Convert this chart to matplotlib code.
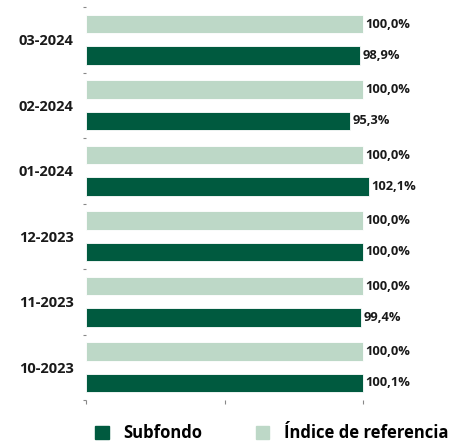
import matplotlib
matplotlib.use("Agg")
import matplotlib.pyplot as plt
from matplotlib.patches import Patch
import numpy as np

categories = ["10-2023", "11-2023", "12-2023", "01-2024", "02-2024", "03-2024"]
subfondo = [100.1, 99.4, 100.0, 102.1, 95.3, 98.9]
indice = [100.0, 100.0, 100.0, 100.0, 100.0, 100.0]
series_names = ["Subfondo", "Índice de referencia"]

dark = "#005A3F"
light = "#BDD8C7"

plt.rcParams['font.family'] = ['Open Sans', 'DejaVu Sans']

fig = plt.figure(figsize=(4.65, 4.45), dpi=100)
ax = fig.add_axes([86/465, 1-400/445, 374/465, 393/445])

y = np.arange(len(categories))
h = 0.28
off = 0.24
ax.barh(y - off, subfondo, height=h, color=dark, edgecolor="white", linewidth=0.6)
ax.barh(y + off, indice, height=h, color=light, edgecolor="white", linewidth=0.6)

for yi, v in zip(y, subfondo):
    ax.text(v + 0.8, yi - off, f"{v:.1f}%".replace(".", ","), va="center", ha="left",
            fontsize=9.3, fontweight="bold", color="#1a1a1a")
for yi, v in zip(y, indice):
    ax.text(v + 0.8, yi + off, f"{v:.1f}%".replace(".", ","), va="center", ha="left",
            fontsize=9.3, fontweight="bold", color="#1a1a1a")

ax.set_xlim(0, 135)
ax.set_ylim(-0.5, len(categories) - 0.5)
ax.set_yticks(y)
ax.set_yticklabels(categories, fontsize=10.5, fontweight="bold", color="#1a1a1a")
ax.set_yticks(np.arange(-0.5, len(categories), 1.0), minor=True)
ax.tick_params(axis="y", which="major", length=0, pad=9)
ax.tick_params(axis="y", which="minor", length=2.5, color="#888888", width=0.8)
ax.set_xticks([0, 50, 100])
ax.set_xticklabels([])
ax.tick_params(axis="x", length=3, color="#888888", width=0.8)
for s in ax.spines.values():
    s.set_visible(False)

handles = [Patch(facecolor=dark, edgecolor=dark), Patch(facecolor=light, edgecolor=light)]
fig.legend(handles, series_names, loc="center", bbox_to_anchor=(0.585, 1-433/445), ncol=2,
           frameon=False, prop={"size": 12, "weight": "bold"}, handlelength=0.8,
           handleheight=0.8, columnspacing=3.2, handletextpad=0.9, borderaxespad=0)

fig.savefig("out.png", dpi=100)
